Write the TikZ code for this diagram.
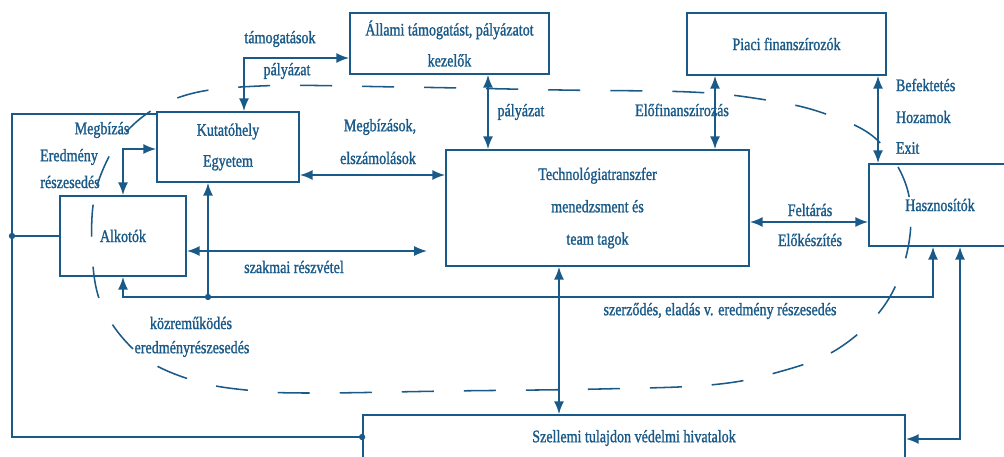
\documentclass[tikz,border=0pt]{standalone}
\usepackage{fontspec}
\setmainfont{Liberation Serif}[FakeStretch=0.8,FakeBold=1.3]
\usepackage{xcolor}
\usetikzlibrary{arrows.meta}
\definecolor{kek}{HTML}{1A5A88}
\tikzset{
  doboz/.style={draw, line width=1.2pt, inner sep=0pt, align=center},
  ketnyil/.style={<->, line width=1.2pt},
  egynyil/.style={->, line width=1.2pt},
  vonal/.style={line width=1.2pt},
  szaggatott/.style={line width=1.1pt, dash pattern=on 0.8cm off 0.75cm},
  pont/.style={fill, inner sep=0pt, minimum size=4.5pt, circle}
}

\begin{document}
\begin{tikzpicture}[x=0.025cm, y=-0.025cm, color=kek,
    font=\fontsize{12.5}{22}\selectfont, >={Latex[length=3.2mm,width=2.5mm]}]
    \useasboundingbox (0,0) rectangle (1004,457);
    \clip (0,0) rectangle (1004,457);

    % The dashed frame round the middle of the scheme
    \draw[szaggatott] plot[smooth cycle, tension=0.6] coordinates {
      (92,248) (97,186) (127,131) (180,97) (260,86) (400,87) (560,90)
      (690,92) (760,99) (820,112) (875,138) (907,188) (908,248) (884,306)
      (836,350) (775,373) (710,385) (600,389) (450,391) (320,393)
      (256,391) (195,381) (140,355) (102,306)};

    % Boxes
    \node[doboz, minimum width=4.975cm, minimum height=1.525cm] (allami) at (449.5,43.5)
      {Állami támogatást, pályázatot\\kezelők};
    \node[doboz, minimum width=4.975cm, minimum height=1.55cm] (piaci) at (786.5,44)
      {Piaci finanszírozók};
    \node[doboz, minimum width=3.55cm, minimum height=1.75cm] (kutato) at (228,147)
      {Kutatóhely\\Egyetem};
    \node[doboz, minimum width=3.15cm, minimum height=2cm] (alkotok) at (123,236)
      {Alkotók};
    \node[doboz, minimum width=7.575cm, minimum height=2.9cm, font=\fontsize{12.5}{23}\selectfont] (techno) at (597.5,208)
      {Technológiatranszfer\\menedzsment és\\team tagok};
    \node[doboz, minimum width=3.55cm, minimum height=2.05cm] (haszn) at (940,205)
      {Hasznosítók};
    \node[doboz, minimum width=13.55cm, minimum height=1.15cm] (szellemi) at (634,438)
      {Szellemi tulajdon védelmi hivatalok};

    % Free ends and joints
    \coordinate (szakmaivege) at (427,251);
    \coordinate (busz) at (208,297);
    \coordinate (bal) at (12,236);

    % Arrows between the boxes
    \draw[ketnyil] (allami.west |- 0,58) -| (kutato.north -| 244,0);
    \draw[ketnyil] (allami.south -| 488,0) -- (techno.north -| 488,0);
    \draw[ketnyil] (piaci.south -| 715,0) -- (techno.north -| 715,0);
    \draw[ketnyil] (piaci.south -| 878,0) -- (haszn.north -| 878,0);
    \draw[ketnyil] (techno.east |- 0,222) -- (haszn.west |- 0,222);
    \draw[ketnyil] (kutato.east |- 0,175) -- (techno.west |- 0,175);
    \draw[ketnyil] (alkotok.east |- 0,251) -- (szakmaivege);
    \draw[ketnyil] (kutato.west |- 0,149) -| (alkotok.north -| 123,0);
    \draw[ketnyil] (alkotok.south -| 123,0) -- (123,297) -| (haszn.south -| 933,0);
    \draw[egynyil] (busz) -- (kutato.south -| busz);
    \draw[ketnyil] (techno.south -| 559,0) -- (szellemi.north -| 559,0);
    \draw[ketnyil] (haszn.south -| 960,0) |- (szellemi.east |- 0,439);

    % Outer line on the left
    \draw[vonal] (kutato.west |- 0,114) -| (12,437) -- (szellemi.west |- 0,437);
    \draw[vonal] (bal) -- (alkotok.west |- bal);
    \node[pont] (p1) at (busz) {};
    \node[pont] (p2) at (bal) {};
    \node[pont] (p3) at (szellemi.west |- 0,437) {};

    % Labels
    \node (tamogatasok) at (280,39) {támogatások};
    \node (palyazat1) at (287,71) {pályázat};
    \node (palyazat2) at (521,112) {pályázat};
    \node (elofin) at (682,110) {Előfinanszírozás};
    \node[anchor=west] (befektetes) at (891,85) {Befektetés};
    \node[anchor=west] (hozamok) at (891,117) {Hozamok};
    \node[anchor=west] (exit) at (891,148) {Exit};
    \node (feltaras) at (810,210) {Feltárás};
    \node (elokeszites) at (810,240) {Előkészítés};
    \node (megbizasok) at (380,127) {Megbízások,};
    \node (elszamolasok) at (378,158) {elszámolások};
    \node (megbizas) at (102,130) {Megbízás};
    \node (eredmeny) at (69,157) {Eredmény};
    \node (reszesedes) at (70,182) {részesedés};
    \node (szakmai) at (294,267) {szakmai részvétel};
    \node (kozremukodes) at (191,323) {közreműködés};
    \node (eredmenyresz) at (192,349) {eredményrészesedés};
    \node (szerzodes) at (720,311) {szerződés, eladás v. eredmény részesedés};

\end{tikzpicture}
\end{document}
